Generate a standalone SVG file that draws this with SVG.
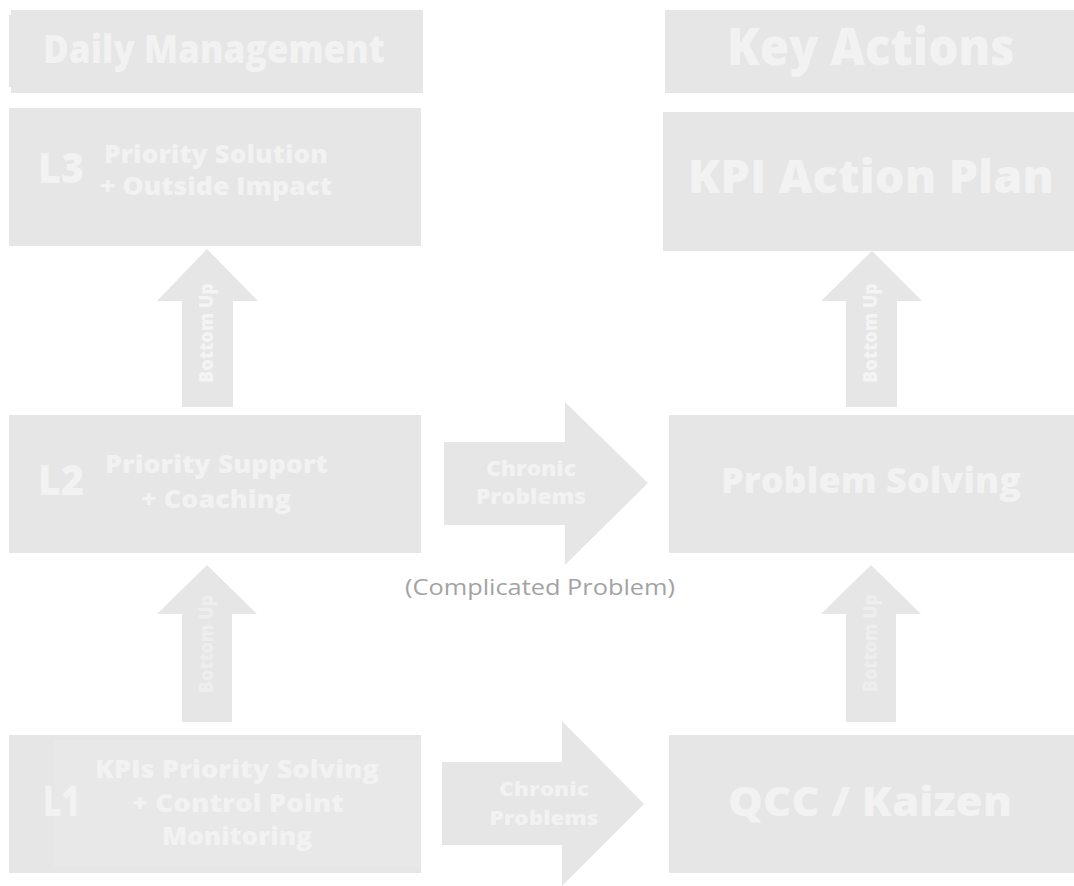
<svg xmlns="http://www.w3.org/2000/svg" width="1074" height="886" viewBox="0 0 1074 886">
<style>
.box{fill:#e5e6e5}
.arrow{fill:#e5e6e5}
.t{font-family:"Open Sans","Liberation Sans",sans-serif;font-weight:800;fill:#f2f2f2}
.bu{font-family:"Open Sans","Liberation Sans",sans-serif;font-weight:800;font-size:18.5px;fill:#f4f4f4}
.bu2{fill:#eeeeee}
.cap{font-family:"Open Sans","Liberation Sans",sans-serif;font-weight:400;font-size:21px;fill:#a3a3a3}
</style>
<rect width="1074" height="886" fill="#ffffff"/>

<g id="daily-management">
<rect class="box" x="9" y="15" width="6" height="72"/>
<rect class="box" x="11" y="10" width="412" height="83"/>
<text class="t" x="43" y="63" font-size="38" textLength="342" lengthAdjust="spacingAndGlyphs">Daily Management</text>
</g>

<g id="key-actions">
<rect class="box" x="665" y="10" width="409" height="83"/>
<text class="t" x="727" y="65" font-size="52" textLength="288" lengthAdjust="spacingAndGlyphs">Key Actions</text>
</g>

<g id="l3">
<rect class="box" x="9" y="108" width="412" height="138"/>
<text class="t" x="38" y="183" font-size="42" textLength="46" lengthAdjust="spacingAndGlyphs">L3</text>
<text class="t" x="104" y="163" font-size="24" textLength="224" lengthAdjust="spacingAndGlyphs">Priority Solution</text>
<text class="t" x="100" y="195" font-size="24" textLength="232" lengthAdjust="spacingAndGlyphs">+ Outside Impact</text>
</g>

<g id="kpi-action-plan">
<rect class="box" x="663" y="112" width="411" height="139"/>
<text class="t" x="688" y="193" font-size="46" textLength="366" lengthAdjust="spacingAndGlyphs">KPI Action Plan</text>
</g>

<g id="l2">
<rect class="box" x="9" y="415" width="412" height="138"/>
<text class="t" x="38" y="495" font-size="42" textLength="46" lengthAdjust="spacingAndGlyphs">L2</text>
<text class="t" x="105" y="473" font-size="25" textLength="223" lengthAdjust="spacingAndGlyphs">Priority Support</text>
<text class="t" x="141" y="508" font-size="25" textLength="150" lengthAdjust="spacingAndGlyphs">+ Coaching</text>
</g>

<g id="problem-solving">
<rect class="box" x="669" y="415" width="405" height="138"/>
<text class="t" x="721" y="493" font-size="36" textLength="300" lengthAdjust="spacingAndGlyphs">Problem Solving</text>
</g>

<g id="l1">
<rect class="box" x="9" y="735" width="412" height="138"/>
<rect x="54" y="740" width="367" height="127" fill="#e7e8e7"/>
<text class="t" x="43" y="816" font-size="43" textLength="37" lengthAdjust="spacingAndGlyphs">L1</text>
<text class="t" x="95" y="778" font-size="24" textLength="284" lengthAdjust="spacingAndGlyphs">KPIs Priority Solving</text>
<text class="t" x="132" y="812" font-size="24" textLength="212" lengthAdjust="spacingAndGlyphs">+  Control Point</text>
<text class="t" x="162" y="845" font-size="24" textLength="150" lengthAdjust="spacingAndGlyphs">Monitoring</text>
</g>

<g id="qcc-kaizen">
<rect class="box" x="669" y="735" width="405" height="138"/>
<text class="t" x="728" y="816" font-size="40" textLength="284" lengthAdjust="spacingAndGlyphs">QCC / Kaizen</text>
</g>

<g id="connectors">
<g id="up-l2-l3">
<polygon class="arrow" points="207,249 258,301 233,301 233,407 182,407 182,301 157,301"/>
<text class="bu" transform="translate(213,333) rotate(-90)" text-anchor="middle" textLength="100" lengthAdjust="spacingAndGlyphs">Bottom Up</text>
</g>
<g id="up-l1-l2">
<polygon class="arrow" points="207,565 257,614 232,614 232,722 182,722 182,614 157,614"/>
<text class="bu bu2" transform="translate(213,644) rotate(-90)" text-anchor="middle" textLength="98" lengthAdjust="spacingAndGlyphs">Bottom Up</text>
</g>
<g id="up-ps-kpi">
<polygon class="arrow" points="872,251 922,301 897,301 897,407 846,407 846,301 821,301"/>
<text class="bu" transform="translate(877,333) rotate(-90)" text-anchor="middle" textLength="100" lengthAdjust="spacingAndGlyphs">Bottom Up</text>
</g>
<g id="up-qcc-ps">
<polygon class="arrow" points="871,565 921,614 896,614 896,722 846,722 846,614 821,614"/>
<text class="bu bu2" transform="translate(877,643) rotate(-90)" text-anchor="middle" textLength="98" lengthAdjust="spacingAndGlyphs">Bottom Up</text>
</g>
<g id="chronic-l2-ps">
<polygon class="arrow" points="444,442 565,442 565,402 648,483 565,565 565,525 444,525"/>
<text class="t" x="531" y="476" font-size="21" text-anchor="middle" textLength="90" lengthAdjust="spacingAndGlyphs">Chronic</text>
<text class="t" x="531" y="504" font-size="21" text-anchor="middle" textLength="110" lengthAdjust="spacingAndGlyphs">Problems</text>
</g>
<text class="cap" x="540" y="595" text-anchor="middle" textLength="270" lengthAdjust="spacingAndGlyphs">(Complicated Problem)</text>
<g id="chronic-l1-qcc">
<polygon class="arrow" points="442,762 562,762 562,721 644,804 562,886 562,845 442,845"/>
<text class="t" x="544" y="796" font-size="20" text-anchor="middle" textLength="90" lengthAdjust="spacingAndGlyphs">Chronic</text>
<text class="t" x="544" y="825" font-size="20" text-anchor="middle" textLength="109" lengthAdjust="spacingAndGlyphs">Problems</text>
</g>
</g>
</svg>
